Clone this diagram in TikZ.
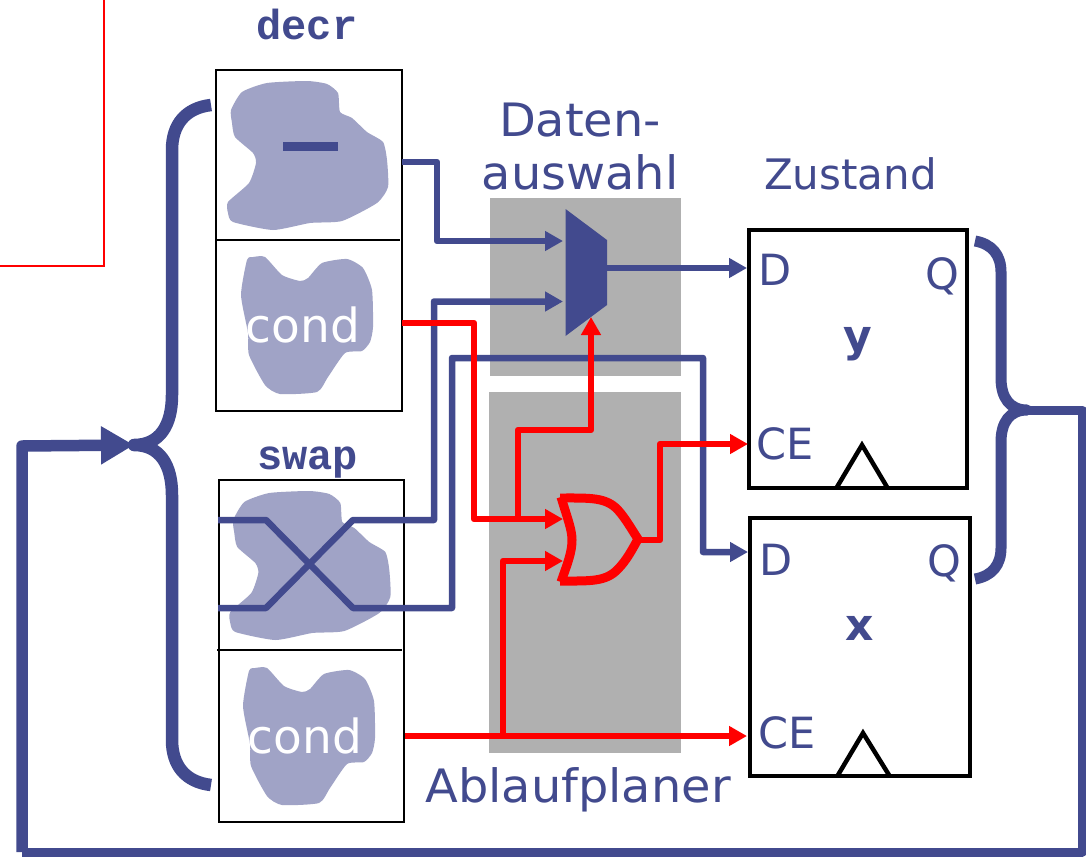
\documentclass[tikz,border=0pt]{standalone}
\usepackage{fontspec}
\setmainfont{DejaVu Sans}
\newfontfamily\verd{DejaVu Sans}[FakeStretch=1.04]
\newfontfamily\monof{Liberation Mono}
\usetikzlibrary{arrows.meta}
\definecolor{bl}{HTML}{424A8E}
\definecolor{blobc}{HTML}{A0A3C6}
\definecolor{gr}{HTML}{B0B0B0}
\definecolor{rd}{HTML}{FF0000}
\newcommand{\fs}[1]{\fontsize{#1}{#1}\selectfont}
\newcommand{\blobbig}{plot[smooth cycle,tension=0.35] coordinates {(231,110)(242,92)(267,83)(307,81)(327,84)(338,93)(340,112)(352,118)(367,132)(383,142)(387,160)(388,187)(377,203)(342,221)(310,223)(273,230)(233,222)(228,213)(228,202)(249,183)(256,163)(253,153)(235,137)(232,123)}}
\newcommand{\blobcond}{plot[smooth cycle,tension=0.35] coordinates {(241,295)(247,260)(253,257)(265,257)(282,275)(300,281)(308,278)(322,263)(347,259)(363,268)(372,290)(373,327)(370,342)(362,351)(345,353)(328,377)(317,392)(280,394)(265,385)(249,355)(248,333)}}
\tikzset{
 x=1pt,y=-1pt,
 gblock/.style={fill=gr,draw=none},
 fbox/.style={draw=black,line width=2pt,fill=white,inner sep=0pt},
 ffbox/.style={draw=black,line width=4.5pt,fill=white,inner sep=0pt},
 blue wire/.style={draw=bl,line width=6.5pt,line join=round},
 red wire/.style={draw=rd,line width=6.5pt,line join=round},
 btip/.style={-{Triangle[length=18pt,width=19pt]}},
 thick blue/.style={draw=bl,line width=12.5pt,line join=round},
 lbl/.style={text=bl,inner sep=0pt},
 big/.style={lbl,font=\verd\fs{46}},
 pin/.style={lbl,font=\fs{43}},
 mono/.style={lbl,font=\monof\bfseries\fs{42}},
 clk/.style={draw=black,line width=4.5pt,line join=miter},
}
\begin{document}
\begin{tikzpicture}
\useasboundingbox (0,0) rectangle (1086,857);
\fill[white] (0,0) rectangle (1086,857);
% outer thin red frame fragment
\coordinate (fa) at (104,0); \coordinate (fb) at (104,266); \coordinate (fc) at (0,266);
\draw[rd,line width=1.3pt] (fa) -- (fb) -- (fc);
% grey blocks
\node[gblock,minimum width=191pt,minimum height=178pt,inner sep=0pt] (gtop) at (585.5,287) {};
\node[gblock,minimum width=192pt,minimum height=361pt,inner sep=0pt] (gbot) at (585,572.5) {};
% FSM boxes
\node[fbox,minimum width=186pt,minimum height=341pt] (decrbox) at (309,240.5) {};
\node[fbox,minimum width=185pt,minimum height=342pt] (swapbox) at (311.5,651) {};
\coordinate (da) at (215,240); \coordinate (db) at (400,240);
\coordinate (sa) at (217,650); \coordinate (sb) at (402,650);
\draw[line width=2pt] (da) -- (db);
\draw[line width=2pt] (sa) -- (sb);
\fill[blobc] \blobbig;
\fill[blobc] \blobcond;
\begin{scope}[shift={(2.3,410)}]
\fill[blobc] \blobbig;
\end{scope}
\begin{scope}[shift={(2,411)}]
\fill[blobc] \blobcond;
\end{scope}
\fill[bl] (283,142) rectangle (338,151);
\node[text=white,inner sep=0pt,font=\fs{47}] (cond1) at (303,324.5) {cond};
\node[text=white,inner sep=0pt,font=\fs{47}] (cond2) at (305,735.5) {cond};
% labels
\node[mono] (decrl) at (307,24) {decr};
\node[mono] (swapl) at (307.5,463) {swap};
\node[big] (dat1) at (580,120) {Daten-};
\node[big] (dat2) at (580,172) {auswahl};
\node[big] (abl) at (578,790) {Ablaufplaner};
\node[lbl,font=\fs{42}] (zus) at (850.5,174) {Zustand};
% flip-flops
\node[ffbox,minimum width=218pt,minimum height=258pt] (ffy) at (858,359) {};
\node[ffbox,minimum width=220pt,minimum height=258pt] (ffx) at (860,647) {};
\node[pin] (yD) at (775,270) {D};
\node[pin] (yQ) at (942,276) {Q};
\node[pin] (yCE) at (785.5,444) {CE};
\node[lbl,font=\bfseries\fs{44}] (yn) at (858,344) {y};
\node[pin] (xD) at (776,560) {D};
\node[pin] (xQ) at (944,563) {Q};
\node[pin] (xCE) at (787,733) {CE};
\node[lbl,font=\bfseries\fs{44}] (xn) at (860,628) {x};
\coordinate (ya) at (837,487); \coordinate (yb) at (862,445); \coordinate (yc) at (887,487);
\coordinate (xa) at (838,775); \coordinate (xb) at (863,733); \coordinate (xc) at (889,775);
\draw[clk] (ya) -- (yb) -- (yc);
\draw[clk] (xa) -- (xb) -- (xc);
% mux
\coordinate (ma) at (565.5,209); \coordinate (mb) at (607,240); \coordinate (mc) at (607,305); \coordinate (md) at (565.5,336);
\fill[bl] (ma) -- (mb) -- (mc) -- (md) -- cycle;
% junctions / endpoints
\coordinate (decrout) at (402,162);
\coordinate (muxi1) at (563,241);
\coordinate (muxi2) at (563,301.5);
\coordinate (muxo) at (607,268);
\coordinate (yDin) at (747,268);
\coordinate (xDin) at (748,552);
\coordinate (s1) at (218,520); \coordinate (s2) at (266,520); \coordinate (s3) at (353,608);
\coordinate (t1) at (218,608); \coordinate (t2) at (266,608); \coordinate (t3) at (353,520);
\coordinate (c1) at (402,323);
\coordinate (c2) at (405,736);
\coordinate (orA) at (563,519);
\coordinate (orB) at (563,561);
\coordinate (orO) at (638,540);
\coordinate (yCEin) at (748,444);
\coordinate (xCEin) at (747,736);
\coordinate (jA) at (518,519);
\coordinate (jB) at (503,736);
\coordinate (muxs) at (591,317);
% blue wires
\draw[blue wire,btip] (decrout) -- (437,162) -- (437,241) -- (muxi1);
\draw[blue wire,btip] (t1) -- (t2) -- (t3) -- (434,520) -- (434,301.5) -- (muxi2);
\draw[blue wire,btip] (s1) -- (s2) -- (s3) -- (452,608) -- (452,358) -- (703,358) -- (703,552) -- (xDin);
\draw[blue wire,btip] (muxo) -- (yDin);
% red wires
\draw[red wire,btip] (c1) -- (474,323) -- (474,519) -- (orA);
\draw[red wire,btip] (jA) -- (518,430) -- (591,430) -- (muxs);
\draw[red wire,btip] (c2) -- (xCEin);
\draw[red wire,btip] (jB) -- (503,561) -- (orB);
\draw[red wire,btip] (orO) -- (660,540) -- (660,444) -- (yCEin);
% OR gate
\draw[rd,line width=9pt,line join=miter,fill=none]
  (560,498) .. controls (590,498) and (606,497) .. (618,510)
  .. controls (626,519) and (632,530) .. (638,539)
  .. controls (632,550) and (626,561) .. (618,569)
  .. controls (606,582) and (590,581) .. (560,581);
\draw[rd,line width=9pt] (561,497) .. controls (568,520) and (572,530) .. (572,540) .. controls (572,552) and (568,562) .. (561,582);
% braces and feedback
\coordinate (bl1) at (211,105); \coordinate (bl2) at (134,445); \coordinate (bl3) at (211,785);
\draw[thick blue] (bl1) .. controls (185,108) and (172,125) .. (172,150) -- (172,395)
  .. controls (172,425) and (160,445) .. (bl2)
  .. controls (160,445) and (172,465) .. (172,495) -- (172,740)
  .. controls (172,765) and (185,782) .. (bl3);
\coordinate (br1) at (975,241); \coordinate (br2) at (1027,410); \coordinate (br3) at (975,579);
\draw[thick blue,line width=11pt] (br1) .. controls (992,244) and (1001,255) .. (1001,272) -- (1001,378)
  .. controls (1001,398) and (1010,410) .. (br2)
  .. controls (1010,410) and (1001,422) .. (1001,442) -- (1001,548)
  .. controls (1001,565) and (992,576) .. (br3);
\coordinate (fbc) at (22,852);
\draw[thick blue,line width=9pt,line join=round] (br2) -- (1082,410) -- (1082,852) -- (fbc);
\draw[thick blue,line width=11.5pt,line join=round,-{Triangle[length=33pt,width=36pt]}]
  (fbc) -- (22,446) -- (bl2);
\end{tikzpicture}
\end{document}
